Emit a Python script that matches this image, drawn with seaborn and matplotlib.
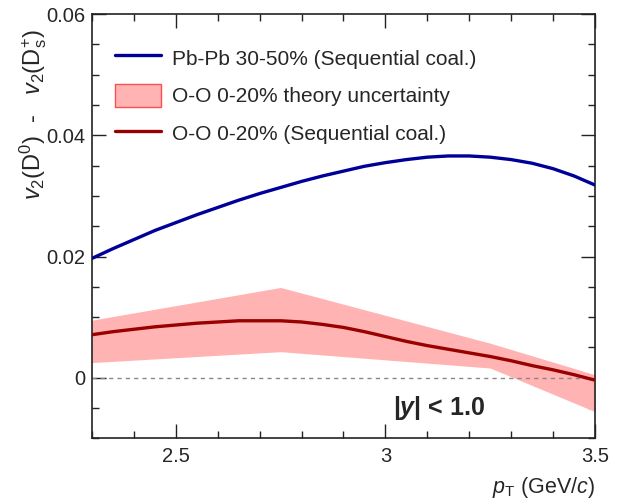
import numpy as np
import pandas as pd
import matplotlib
matplotlib.use("Agg")
import matplotlib.pyplot as plt
import seaborn as sns
from matplotlib.ticker import MultipleLocator
from matplotlib.patches import Patch
from matplotlib.lines import Line2D

# ---- data ----
pt_pbpb = [2.3, 2.35, 2.4, 2.45, 2.5, 2.55, 2.6, 2.65, 2.7, 2.75, 2.8, 2.85, 2.9, 2.95,
           3.0, 3.05, 3.1, 3.15, 3.2, 3.25, 3.3, 3.35, 3.4, 3.45, 3.5]
v2_pbpb = [0.0197, 0.0213, 0.0228, 0.0243, 0.0256, 0.0269, 0.0281, 0.0293, 0.0304, 0.0314,
           0.0324, 0.0333, 0.0341, 0.0349, 0.0355, 0.0360, 0.0364, 0.0366, 0.0366, 0.0364,
           0.0360, 0.0354, 0.0345, 0.0333, 0.0318]

pt_oo = [2.3, 2.35, 2.4, 2.45, 2.5, 2.55, 2.6, 2.65, 2.7, 2.75, 2.8, 2.85, 2.9, 2.95,
         3.0, 3.05, 3.1, 3.15, 3.2, 3.25, 3.3, 3.35, 3.4, 3.45, 3.5]
v2_oo = [0.0071, 0.0076, 0.0080, 0.0084, 0.0087, 0.0090, 0.0092, 0.0094, 0.0094, 0.0094,
         0.0092, 0.0088, 0.0083, 0.0076, 0.0068, 0.0060, 0.0053, 0.0047, 0.0041, 0.0035,
         0.0028, 0.0020, 0.0013, 0.0005, -0.0004]

pt_band = [2.3, 2.75, 3.25, 3.5]
band_hi = [0.0095, 0.0149, 0.0057, 0.0005]
band_lo = [0.0025, 0.0043, 0.0016, -0.0056]

labels = ["Pb-Pb 30-50% (Sequential coal.)",
          "O-O 0-20% theory uncertainty",
          "O-O 0-20% (Sequential coal.)"]

blue = "#000099"
red = "#990000"
pink = "#ffb3b3"

sns.set_style("ticks")
plt.rcParams["font.family"] = ["Liberation Sans", "DejaVu Sans"]
plt.rcParams["mathtext.fontset"] = "custom"
plt.rcParams["mathtext.rm"] = "Liberation Sans"
plt.rcParams["mathtext.it"] = "Liberation Sans:italic"
plt.rcParams["mathtext.bf"] = "Liberation Sans:bold"
plt.rcParams["mathtext.bfit"] = "Liberation Sans:italic:bold"

fig = plt.figure(figsize=(6.22, 5.01), dpi=100)
ax = fig.add_axes([0.1479, 0.1251, 0.9566 - 0.1479, 0.9717 - 0.1251])

df_pb = pd.DataFrame({"pt": pt_pbpb, "v2": v2_pbpb})
df_oo = pd.DataFrame({"pt": pt_oo, "v2": v2_oo})

ax.fill_between(pt_band, band_lo, band_hi, color=pink, lw=0, zorder=1)
ax.axhline(0, color="#888888", lw=1.0, ls=(0, (3, 3)), zorder=2)
sns.lineplot(data=df_pb, x="pt", y="v2", ax=ax, color=blue, lw=2.4, zorder=3)
sns.lineplot(data=df_oo, x="pt", y="v2", ax=ax, color=red, lw=2.4, zorder=3)

ax.set_xlim(2.3, 3.5)
ax.set_ylim(-0.01, 0.06)
ax.xaxis.set_major_locator(MultipleLocator(0.5))
ax.xaxis.set_minor_locator(MultipleLocator(0.1))
ax.yaxis.set_major_locator(MultipleLocator(0.02))
ax.yaxis.set_minor_locator(MultipleLocator(0.005))
ax.set_xticks([2.5, 3.0, 3.5])
ax.set_xticklabels(["2.5", "3", "3.5"])
ax.set_yticks([0, 0.02, 0.04, 0.06])
ax.set_yticklabels(["0", "0.02", "0.04", "0.06"])
ax.tick_params(which="both", direction="in", top=True, right=True, width=1.0, color="#222222", labelsize=14.5)
ax.tick_params(which="major", length=10)
ax.tick_params(which="minor", length=5)
ax.tick_params(axis="x", which="major", pad=6)
ax.tick_params(axis="y", which="major", pad=5)
for s in ax.spines.values():
    s.set_linewidth(1.2)
    s.set_color("#222222")

ax.set_xlabel(r"$p_{\mathrm{T}}$ (GeV/$c$)", fontsize=15.5, loc="right", labelpad=7)
ax.set_ylabel(r"$v_{2}(\mathrm{D}^{0})$  -   $v_{2}(\mathrm{D}_{\mathrm{s}}^{+})$", fontsize=17, loc="top", labelpad=-2)
ax.yaxis.label.set_y(0.965)

ax.text(3.238, -0.005, r"$\mathbf{|}\mathbfit{y}\mathbf{|}$ < 1.0", fontsize=18, fontweight="bold",
        ha="right", va="center")

handles = [Line2D([], [], color=blue, lw=2.4),
           Patch(facecolor=pink, edgecolor="#ff4d4d", lw=1.0),
           Line2D([], [], color=red, lw=2.4)]
ax.legend(handles, labels, loc="upper left", bbox_to_anchor=(0.03, 0.944), frameon=False,
          fontsize=15, handlelength=2.2, handleheight=1.3, labelspacing=0.72, handletextpad=0.5,
          borderaxespad=0)

fig.savefig("out.png", dpi=100)
